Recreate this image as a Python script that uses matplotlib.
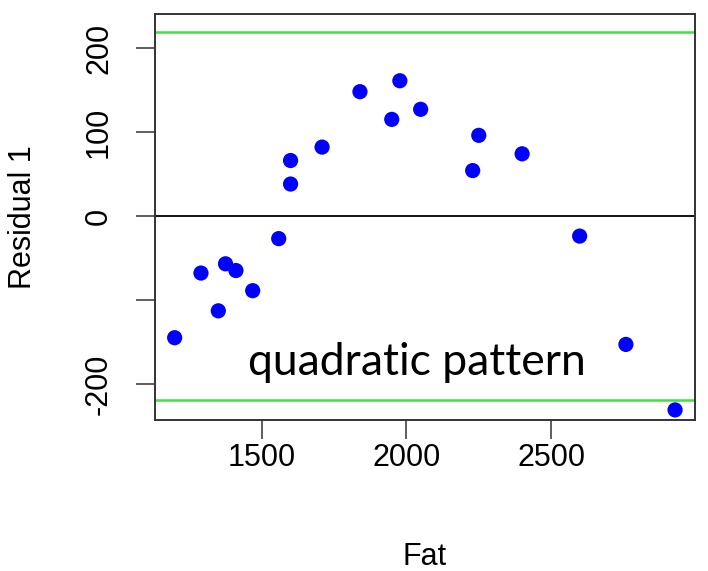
import numpy as np
import matplotlib
matplotlib.use("Agg")
import matplotlib.pyplot as plt

# valores
fat = [1198, 1289, 1349, 1374, 1410, 1468, 1558, 1599, 1599, 1708,
       1839, 1949, 1977, 2049, 2229, 2250, 2400, 2599, 2759, 2929]
residual = [-145, -68, -113, -57, -65, -89, -27, 66, 38, 82,
            148, 115, 161, 127, 54, 96, 74, -24, -153, -231]
limite = 219

x_ticks = [1500, 2000, 2500]
y_ticks = [-200, -100, 0, 100, 200]
y_tick_labels = ["-200", "", "0", "100", "200"]

plt.rcParams['font.family'] = ['Liberation Sans', 'DejaVu Sans']

fig = plt.figure(figsize=(7.08, 5.71), dpi=100)
ax = fig.add_axes([155 / 708, 1 - 420 / 571, 540 / 708, 406 / 571])

ax.scatter(fat, residual, s=120, color="#0000ff", edgecolors="none", zorder=3)
ax.axhline(0, color="black", lw=1.3, zorder=2)
ax.axhline(limite, color="#3fe23f", lw=1.8, zorder=2)
ax.axhline(-limite, color="#3fe23f", lw=1.8, zorder=2)

ax.set_xlim(1130, 2998)
ax.set_ylim(-243, 240.5)

ax.set_xticks(x_ticks)
ax.set_xticklabels([str(t) for t in x_ticks], fontsize=22)
ax.set_yticks(y_ticks)
ax.set_yticklabels(y_tick_labels, fontsize=22, rotation=90, va="center")
ax.tick_params(axis="x", direction="out", length=13.5, width=1.1,
               color="#333333", pad=3)
ax.tick_params(axis="y", direction="out", length=13.5, width=1.1,
               color="#333333", pad=16)

for s in ax.spines.values():
    s.set_color("#333333")
    s.set_linewidth(1.4)

ax.set_xlabel("Fat", fontsize=22, labelpad=50)
ax.set_ylabel("Residual 1", fontsize=22, labelpad=33)

ax.text(1452, -190, "quadratic pattern", fontsize=32,
        family=["Lato", "DejaVu Sans"], color="black", va="baseline", ha="left")

fig.savefig("out.png", dpi=100)
